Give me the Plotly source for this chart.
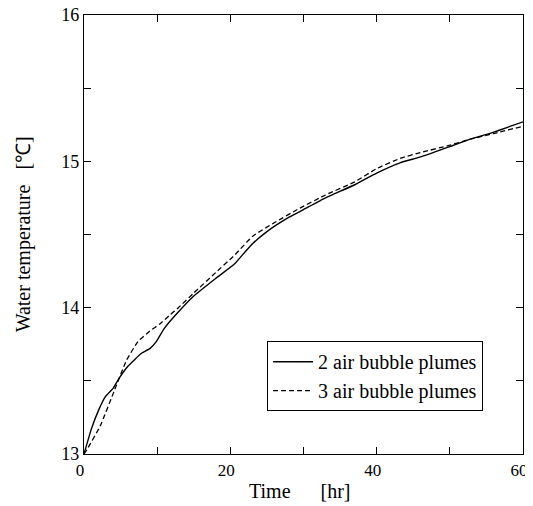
import plotly.graph_objects as go

# Time [hr] and water temperature [°C]
t_two = [0, 1, 2, 2.9, 4, 4.7, 6, 7.9, 9, 9.9, 11, 12.7, 15, 18, 20.6, 22, 23.1, 25, 28.1,
         30, 33, 37, 40, 43.2, 46, 50, 52.7, 56, 60]
temp_two = [13.0, 13.17, 13.3, 13.39, 13.45, 13.51, 13.6, 13.69, 13.72, 13.77, 13.86, 13.96,
            14.08, 14.2, 14.3, 14.38, 14.44, 14.52, 14.62, 14.67, 14.75, 14.84, 14.92, 14.99,
            15.03, 15.1, 15.15, 15.2, 15.27]

t_three = [0, 0.4, 2.2, 4.2, 5.8, 7.4, 9, 10.4, 11.75, 12.9, 15, 18, 20.6, 23.1, 26, 29.5,
           33, 37, 40, 43.2, 46, 50, 52.7, 56, 60]
temp_three = [13.0, 13.03, 13.19, 13.44, 13.64, 13.77, 13.84, 13.89, 13.95, 14.0, 14.1, 14.24,
              14.36, 14.49, 14.58, 14.68, 14.77, 14.86, 14.95, 15.02, 15.06, 15.11, 15.15,
              15.19, 15.24]

series_names = ["2 air bubble plumes", "3 air bubble plumes"]

x_tickvals = [0, 10, 20, 30, 40, 50, 60]
x_ticktext = ["0", "", "20", "", "40", "", "60"]
y_tickvals = [13, 13.5, 14, 14.5, 15, 15.5, 16]
y_ticktext = ["13", "", "14", "", "15", "", "16"]

FONT = "Liberation Serif"

fig = go.Figure()
fig.add_trace(go.Scatter(x=t_two, y=temp_two, mode="lines", name=series_names[0],
                         line=dict(color="black", width=1.4, shape="spline", smoothing=0.4)))
fig.add_trace(go.Scatter(x=t_three, y=temp_three, mode="lines", name=series_names[1],
                         line=dict(color="black", width=1.3, dash="5px,3px",
                                   shape="spline", smoothing=0.4)))

axis_common = dict(showline=True, linecolor="black", linewidth=1.3, mirror="ticks",
                   ticks="inside", ticklen=7, tickwidth=1.2, tickcolor="black",
                   showgrid=False, zeroline=False, automargin=False,
                   ticklabeloverflow="allow")

fig.update_xaxes(range=[0, 60], tickvals=x_tickvals, ticktext=x_ticktext,
                 ticklabelshift=-4,
                 tickfont=dict(family=FONT, size=17, color="black"), **axis_common)
fig.update_yaxes(range=[13, 16], tickvals=y_tickvals, ticktext=y_ticktext,
                 tickfont=dict(family=FONT, size=18, color="black"), **axis_common)

fig.add_annotation(text="Time&nbsp;&nbsp;&nbsp;&nbsp;&nbsp;&nbsp;[hr]", xref="paper", yref="paper",
                   x=0.492, y=-0.084, xanchor="center", yanchor="middle", showarrow=False,
                   font=dict(family=FONT, size=20, color="black"))
fig.add_annotation(text="Water temperature&nbsp;&nbsp;&nbsp;[℃]", xref="paper", yref="paper",
                   x=-0.137, y=0.5, xanchor="center", yanchor="middle", showarrow=False,
                   textangle=-90, font=dict(family=FONT, size=20, color="black"))

# page body has an 8px margin, so figure is sized/margined to compensate
fig.update_layout(
    width=533, height=498,
    margin=dict(l=76, r=18, t=7, b=52),
    paper_bgcolor="white", plot_bgcolor="white",
    font=dict(family=FONT, size=18, color="black"),
    legend=dict(x=0.417, y=0.257, xanchor="left", yanchor="top",
                bordercolor="black", borderwidth=1, bgcolor="white",
                font=dict(family=FONT, size=20, color="black"),
                tracegroupgap=0, itemwidth=40),
    showlegend=True,
)

fig.write_html("out.html")
